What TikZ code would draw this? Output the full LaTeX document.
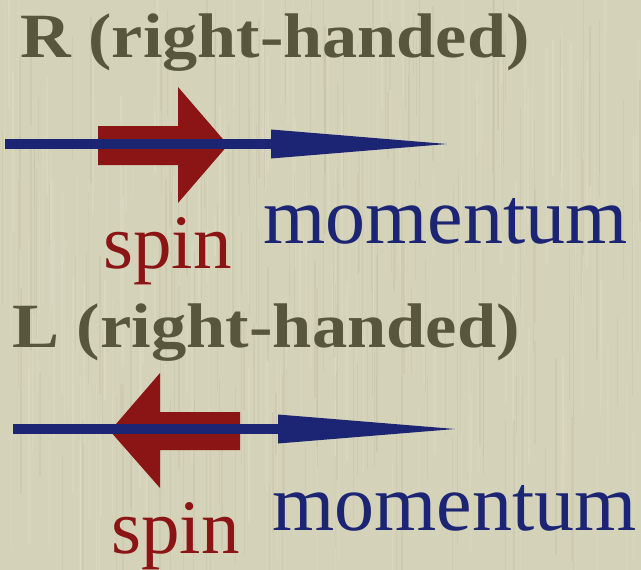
\documentclass[tikz,border=0pt]{standalone}
\usepackage{fontspec}
\setmainfont{Liberation Serif}
\usetikzlibrary{calc}
\definecolor{paper}{RGB}{213,210,186}
\definecolor{paperdark}{RGB}{192,188,162}
\definecolor{paperlight}{RGB}{226,224,203}
\definecolor{titlecol}{RGB}{88,86,60}
\definecolor{spincol}{RGB}{139,20,20}
\definecolor{momcol}{RGB}{28,37,115}
\tikzset{
  titletext/.style={anchor=base west, inner sep=0pt, text=titlecol,
    font=\fontsize{63}{70}\selectfont\bfseries},
  spintext/.style={anchor=base west, inner sep=0pt, text=spincol,
    font=\fontsize{77}{84}\selectfont},
  momtext/.style={anchor=base west, inner sep=0pt, text=momcol,
    font=\fontsize{80}{88}\selectfont},
  momshaft/.style={draw=momcol, line width=10pt, line cap=butt},
  momhead/.style={fill=momcol},
  spinarrow/.style={fill=spincol},
}
\pgfmathsetseed{7}
\begin{document}
\begin{tikzpicture}[x=1pt, y=-1pt]
  % paper background with faint vertical grain
  \fill[paper, use as bounding box] (0,0) rectangle (641,570);
  \foreach \i in {1,...,360}{
    \pgfmathsetmacro{\gx}{rnd*641}
    \pgfmathsetmacro{\gw}{0.5+rnd*1.5}
    \pgfmathsetmacro{\gy}{rnd*500-40}
    \pgfmathsetmacro{\gl}{60+rnd*160}
    \ifodd\i
      \draw[paperdark, opacity=0.3, line width=\gw pt] (\gx,\gy) -- (\gx,\gy+\gl);
    \else
      \draw[paperlight, opacity=0.35, line width=\gw pt] (\gx,\gy) -- (\gx,\gy+\gl);
    \fi
  }

  % ---- right-handed: spin along momentum ----
  \node[titletext] (titleR) at (20,57) {\scalebox{1.115}[1]{R (right-handed)}};

  % spin arrow (pointing right)
  \coordinate (s1tail) at (98,145.5);
  \coordinate (s1base) at (178,145.5);
  \coordinate (s1tip)  at (228,145);
  \fill[spinarrow] ($(s1tail)+(0,-19.5)$) -- ($(s1base)+(0,-19.5)$)
    -- ($(s1base)+(0,-58.5)$) -- (s1tip) -- ($(s1base)+(0,57.5)$)
    -- ($(s1base)+(0,19.5)$) -- ($(s1tail)+(0,19.5)$) -- cycle;

  % momentum arrow
  \coordinate (m1tail) at (5,144);
  \coordinate (m1base) at (271,144);
  \coordinate (m1tip)  at (447,144);
  \draw[momshaft] (m1tail) -- ($(m1base)+(2,0)$);
  \fill[momhead] (m1tip) -- ($(m1base)+(0,-14.5)$) -- ($(m1base)+(0,14.5)$) -- cycle;

  \node[spintext] (spinR) at (103,268) {spin};
  \node[momtext] (momR) at (263,243) {momentum};

  % ---- left-handed: spin against momentum ----
  \node[titletext] (titleL) at (12,347) {\scalebox{1.12}[1]{L (right-handed)}};

  % spin arrow (pointing left)
  \coordinate (s2tail) at (240,431);
  \coordinate (s2base) at (160,431);
  \coordinate (s2tip)  at (110,431);
  \fill[spinarrow] ($(s2tail)+(0,-19)$) -- ($(s2base)+(0,-19)$)
    -- ($(s2base)+(0,-58)$) -- (s2tip) -- ($(s2base)+(0,57)$)
    -- ($(s2base)+(0,19)$) -- ($(s2tail)+(0,19)$) -- cycle;

  % momentum arrow
  \coordinate (m2tail) at (13,429);
  \coordinate (m2base) at (278,429);
  \coordinate (m2tip)  at (455,429);
  \draw[momshaft] (m2tail) -- ($(m2base)+(2,0)$);
  \fill[momhead] (m2tip) -- ($(m2base)+(0,-14.5)$) -- ($(m2base)+(0,14.5)$) -- cycle;

  \node[spintext] (spinL) at (111,553) {spin};
  \node[momtext] (momL) at (272,530) {momentum};
\end{tikzpicture}
\end{document}
